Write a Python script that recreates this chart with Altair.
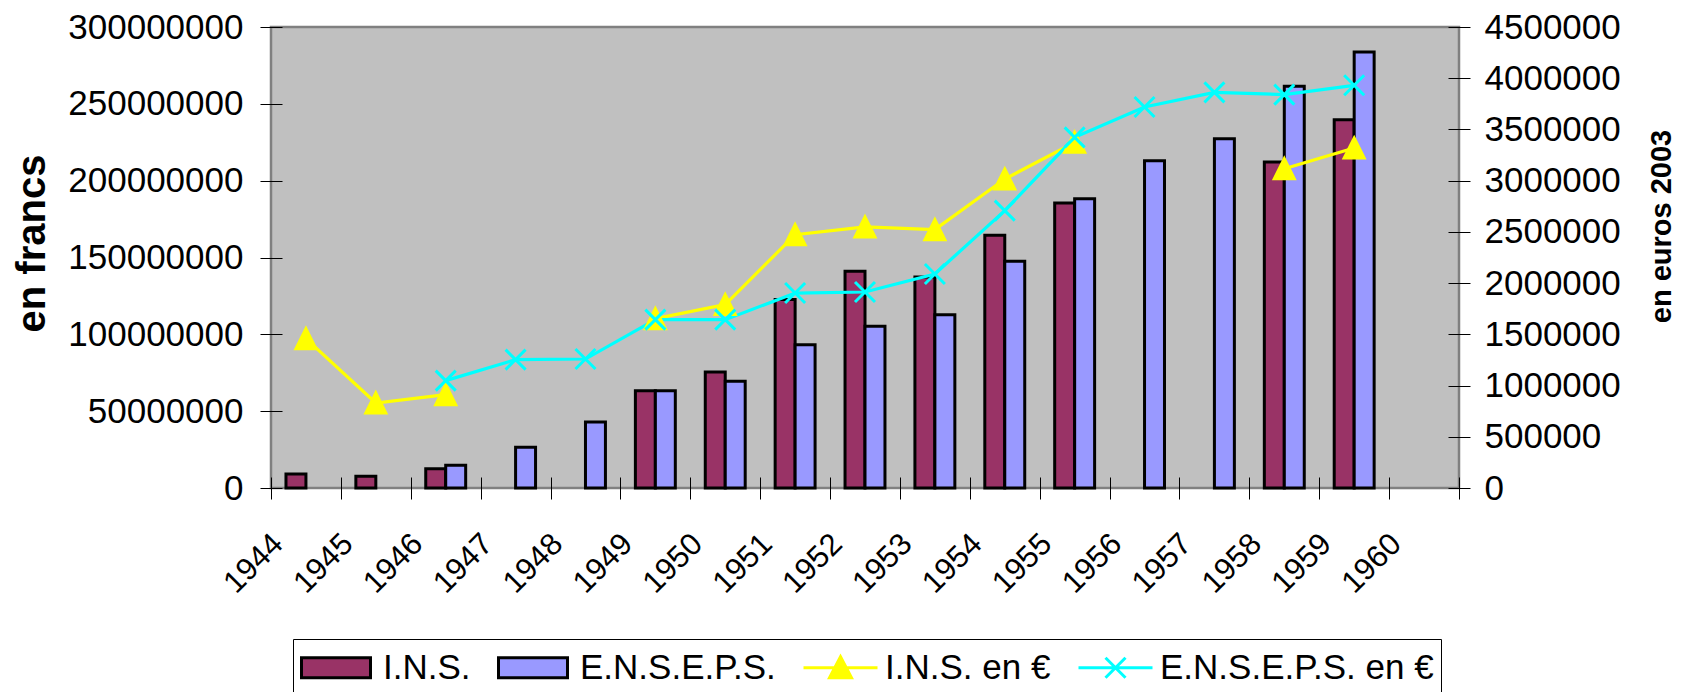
import altair as alt
import pandas as pd

# ---------------- data ----------------
years = [str(y) for y in range(1944, 1961)]
ins_francs = [9.1e6, 7.6e6, 12.6e6, None, None, 63.3e6, 75.5e6, 122.6e6, 141.0e6,
              137.3e6, 164.4e6, 185.5e6, None, None, 212.1e6, 239.7e6, None]
enseps_francs = [None, None, 14.8e6, 26.5e6, 42.9e6, 63.3e6, 69.4e6, 93.3e6, 105.2e6,
                 112.8e6, 147.5e6, 188.3e6, 213.0e6, 227.3e6, 261.4e6, 283.7e6, None]
ins_eur = [1.458e6, 0.830e6, 0.911e6, None, None, 1.653e6, 1.790e6, 2.473e6, 2.548e6,
           2.522e6, 3.016e6, 3.374e6, None, None, 3.117e6, 3.319e6, None]
enseps_eur = [None, None, 1.048e6, 1.253e6, 1.259e6, 1.643e6, 1.643e6, 1.903e6, 1.913e6,
              2.089e6, 2.707e6, 3.423e6, 3.719e6, 3.862e6, 3.840e6, 3.931e6, None]

series_names = ["I.N.S.", "E.N.S.E.P.S.", "I.N.S. en €", "E.N.S.E.P.S. en €"]
series_fills = ["#993366", "#9999FF", "#FFFF00", "#00FFFF"]
series_strokes = ["#000000", "#000000", "#FFFF00", "#00FFFF"]
francs_ticks = [0, 50e6, 100e6, 150e6, 200e6, 250e6, 300e6]
euro_ticks = [0, 500000, 1000000, 1500000, 2000000, 2500000, 3000000, 3500000, 4000000, 4500000]

# ---------------- tables ----------------
bar_rows = []
for i, y in enumerate(years):
    for name, vals in ((series_names[0], ins_francs), (series_names[1], enseps_francs)):
        if vals[i] is not None:
            bar_rows.append({"year": y, "series": name, "francs": vals[i]})
bars_df = pd.DataFrame(bar_rows)

line_rows = []
for name, vals in ((series_names[2], ins_eur), (series_names[3], enseps_eur)):
    for i, y in enumerate(years):
        line_rows.append({"year": y, "series": name, "euros": vals[i]})
lines_df = pd.DataFrame(line_rows)

FONT = "Liberation Sans"

# marker and legend symbol shapes (custom paths)
TRI = "M0,-1L1,1L-1,1Z"
XMARK = "M-1,-1L1,1M-1,1L1,-1"
LEG_RECT = "M-1,-0.5H2.45V0.5H-1Z"
LEG_TRI = "M-1,0H2.7M0.85,-0.55L1.4,0.5L0.3,0.5Z"
LEG_X = "M-1,0H2.7M0.35,-0.5L1.35,0.5M0.35,0.5L1.35,-0.5"

fill_scale = alt.Scale(domain=series_names, range=series_fills)
stroke_scale = alt.Scale(domain=series_names, range=series_strokes)
shape_scale = alt.Scale(domain=series_names, range=[LEG_RECT, LEG_RECT, LEG_TRI, LEG_X])

legend = alt.Legend(
    title=None, orient="none", legendX=22, legendY=612, direction="horizontal",
    labelFont=FONT, labelFontSize=35, labelColor="black", labelLimit=500,
    symbolSize=1600, symbolStrokeWidth=3, symbolOpacity=1, labelOffset=40, columnPadding=21,
    padding=7, strokeColor="black", fillColor="white",
)

fill_enc = alt.Fill("series:N", scale=fill_scale, legend=legend)
stroke_enc = alt.Stroke("series:N", scale=stroke_scale, legend=legend)

x_axis = alt.Axis(title=None, tickBand="extent", labelAngle=315, labelAlign="right",
                  labelBaseline="middle", labelFont=FONT, labelFontSize=31, labelColor="black",
                  tickSize=22, offset=-11, domain=False, tickColor="black", tickWidth=1,
                  labelPadding=40, labelOffset=-28, grid=False)
x_enc = alt.X("year:N", scale=alt.Scale(domain=years, paddingInner=0, paddingOuter=0), axis=x_axis, sort=years)

left_axis = alt.Axis(title="en francs", orient="left", values=francs_ticks, format="d",
                     labelFont=FONT, labelFontSize=35, labelColor="black", tickSize=22, offset=-11,
                     domain=False, tickColor="black", tickWidth=1, labelPadding=17, grid=False,
                     titleFont=FONT, titleFontSize=40, titleFontWeight="bold", titleColor="black",
                     titleAngle=270, titleAlign="center", titleBaseline="middle", titleX=-250, titleY=216)
right_axis = alt.Axis(title="en euros 2003", orient="right", values=euro_ticks, format="d",
                      labelFont=FONT, labelFontSize=35, labelColor="black", tickSize=22, offset=-11,
                      domain=False, tickColor="black", tickWidth=1, labelPadding=14, grid=False,
                      titleFont=FONT, titleFontSize=29, titleFontWeight="bold", titleColor="black",
                      titleAngle=270, titleAlign="center", titleBaseline="middle", titleX=213, titleY=199)

bars = alt.Chart(bars_df).mark_bar(strokeWidth=3, opacity=1).encode(
    x=x_enc,
    xOffset=alt.XOffset("series:N", scale=alt.Scale(domain=series_names[:2], paddingInner=0, paddingOuter=0.75)),
    y=alt.Y("francs:Q", scale=alt.Scale(domain=[0, 300e6], nice=False, zero=True), axis=left_axis),
    fill=fill_enc,
    stroke=stroke_enc,
)

y_eur = alt.Y("euros:Q", scale=alt.Scale(domain=[0, 4.5e6], nice=False, zero=True), axis=right_axis)

lines = alt.Chart(lines_df).mark_line(strokeWidth=3.2, opacity=1, invalid="break-paths-show-domains").encode(
    x=x_enc, y=y_eur, stroke=stroke_enc,
)


def marker_layer(name, shape, filled):
    return alt.Chart(lines_df).transform_filter(
        alt.datum.series == name
    ).mark_point(shape=shape, filled=filled, size=400, strokeWidth=3, opacity=1).encode(
        x=x_enc, y=y_eur, fill=fill_enc, stroke=stroke_enc,
    )


pts_ins = marker_layer(series_names[2], TRI, True)
pts_enseps = marker_layer(series_names[3], XMARK, False)

# legend-only layer (no rows survive the filter; it only carries the legend symbol shapes)
legend_layer = alt.Chart(lines_df).transform_filter("false").mark_point(
    filled=True, opacity=1, strokeWidth=3
).encode(
    x=x_enc, y=y_eur, fill=fill_enc, stroke=stroke_enc,
    shape=alt.Shape("series:N", scale=shape_scale, legend=legend),
)

chart = alt.layer(bars, alt.layer(lines, pts_ins, pts_enseps, legend_layer)).resolve_scale(
    y="independent"
).properties(
    width=1188, height=461,
    autosize=alt.AutoSizeParams(type="none"),
    padding={"left": 263, "top": 19, "right": 219, "bottom": 204},
).configure(
    background="white", font=FONT
).configure_view(
    fill="#C0C0C0", stroke="#808080", strokeWidth=2.5,
)

chart.save("out.html", embed_options={"renderer": "svg", "actions": False})
